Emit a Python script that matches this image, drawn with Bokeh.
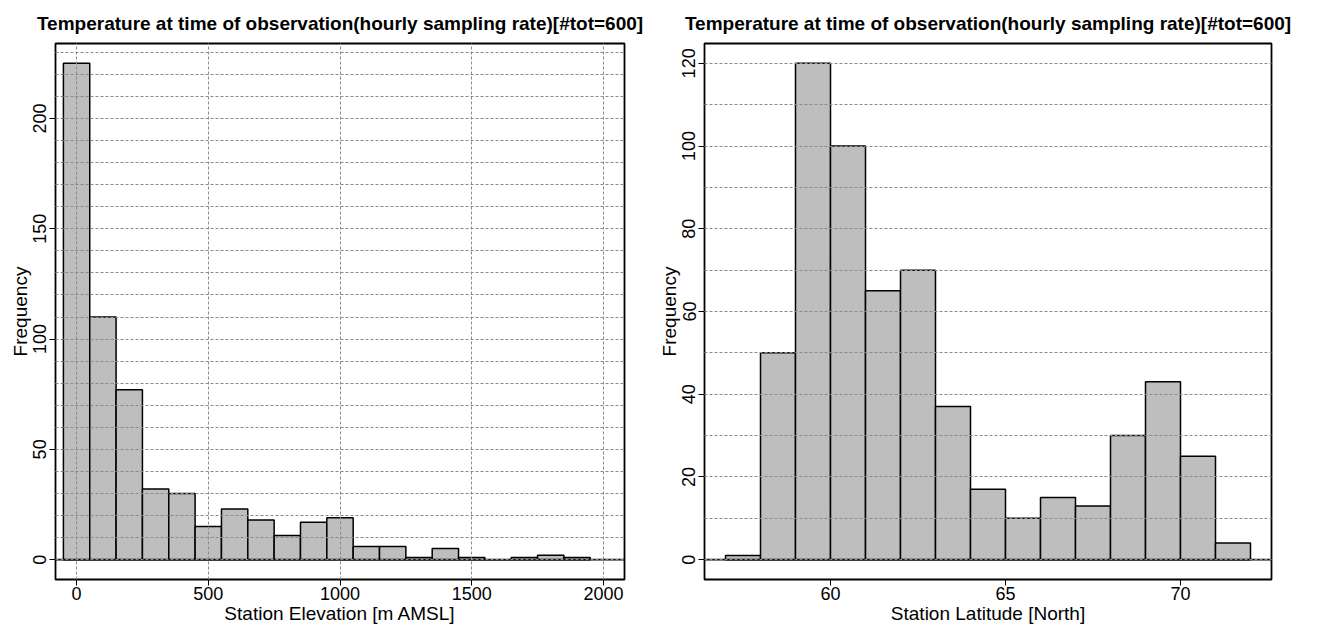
from bokeh.plotting import figure
from bokeh.layouts import row
from bokeh.models import Range1d, FixedTicker, Span
from bokeh.embed import file_html
from bokeh.resources import INLINE

TITLE = "Temperature at time of observation(hourly sampling rate)[#tot=600]"

# Left histogram: station elevation, bins of 100 m
elev_left = [-50, 50, 150, 250, 350, 450, 550, 650, 750, 850,
             950, 1050, 1150, 1250, 1350, 1450, 1550, 1650, 1750, 1850]
elev_right = [50, 150, 250, 350, 450, 550, 650, 750, 850, 950,
              1050, 1150, 1250, 1350, 1450, 1550, 1650, 1750, 1850, 1950]
elev_counts = [225, 110, 77, 32, 30, 15, 23, 18, 11, 17,
               19, 6, 6, 1, 5, 1, 0, 1, 2, 1]
elev_xticks = [0, 500, 1000, 1500, 2000]
elev_yticks = [0, 50, 100, 150, 200]
elev_ygrid = list(range(0, 240, 10))

# Right histogram: station latitude, bins of 1 degree
lat_left = [57, 58, 59, 60, 61, 62, 63, 64, 65, 66, 67, 68, 69, 70, 71]
lat_right = [58, 59, 60, 61, 62, 63, 64, 65, 66, 67, 68, 69, 70, 71, 72]
lat_counts = [1, 50, 120, 100, 65, 70, 37, 17, 10, 15, 13, 30, 43, 25, 4]
lat_xticks = [60, 65, 70]
lat_yticks = [0, 20, 40, 60, 80, 100, 120]
lat_ygrid = list(range(0, 130, 10))

FONT = "Liberation Sans"
GRID_COLOR = "#8a8a8a"


def make_fig(width, bl, br, xr, yr, xlabel, xticks, yticks, ygrid, xgrid,
             lefts, rights, counts):
    p = figure(width=width, height=626, output_backend="svg", toolbar_location=None,
               x_range=Range1d(*xr), y_range=Range1d(*yr),
               min_border_left=bl, min_border_right=br,
               min_border_top=43, min_border_bottom=47)
    p.title.text = TITLE
    p.title.align = "center"
    p.title.text_font = FONT
    p.title.text_font_size = "19px"
    p.title.text_font_style = "bold"
    p.title.text_color = "black"
    p.title.standoff = 19

    p.quad(left=lefts, right=rights, top=counts, bottom=0,
           fill_color="#bebebe", line_color="black", line_width=1.5)

    p.add_layout(Span(location=0, dimension="width", line_color="black",
                      line_width=1.6))

    p.outline_line_color = "black"
    p.outline_line_width = 1.8
    p.background_fill_color = "white"
    p.border_fill_color = "white"

    for ax in (p.xaxis[0], p.yaxis[0]):
        ax.axis_line_color = None
        ax.major_tick_in = 0
        ax.major_tick_out = 6
        ax.major_tick_line_color = "black"
        ax.major_tick_line_width = 1
        ax.minor_tick_line_color = None
        ax.major_label_text_font = FONT
        ax.major_label_text_font_size = "18px"
        ax.major_label_text_color = "black"
        ax.axis_label_text_font = FONT
        ax.axis_label_text_font_size = "19px"
        ax.axis_label_text_font_style = "normal"
        ax.axis_label_text_color = "black"

    p.xaxis.ticker = FixedTicker(ticks=xticks)
    p.yaxis.ticker = FixedTicker(ticks=yticks)
    p.xaxis.axis_label = xlabel
    p.yaxis.axis_label = "Frequency"
    p.xaxis.major_label_standoff = 1
    p.xaxis.axis_label_standoff = 0
    p.yaxis.major_label_standoff = 3
    p.yaxis.axis_label_standoff = 0
    p.yaxis.major_label_orientation = "vertical"

    p.ygrid.ticker = FixedTicker(ticks=ygrid)
    p.ygrid.grid_line_color = GRID_COLOR
    p.ygrid.grid_line_dash = "3 2"
    p.ygrid.grid_line_width = 1
    p.ygrid.level = "overlay"
    if xgrid:
        p.xgrid.ticker = FixedTicker(ticks=xgrid)
        p.xgrid.grid_line_color = GRID_COLOR
        p.xgrid.grid_line_dash = "3 2"
        p.xgrid.grid_line_width = 1
        p.xgrid.level = "overlay"
    else:
        p.xgrid.grid_line_color = None
    return p


p1 = make_fig(655, 55, 31, (-80, 2080), (-9, 234), "Station Elevation [m AMSL]",
              elev_xticks, elev_yticks, elev_ygrid, elev_xticks,
              elev_left, elev_right, elev_counts)
p2 = make_fig(662, 46, 46, (56.4, 72.6), (-4.8, 124.8), "Station Latitude [North]",
              lat_xticks, lat_yticks, lat_ygrid, None,
              lat_left, lat_right, lat_counts)

layout = row(p1, p2)
open("out.html", "w").write(file_html(layout, INLINE))
